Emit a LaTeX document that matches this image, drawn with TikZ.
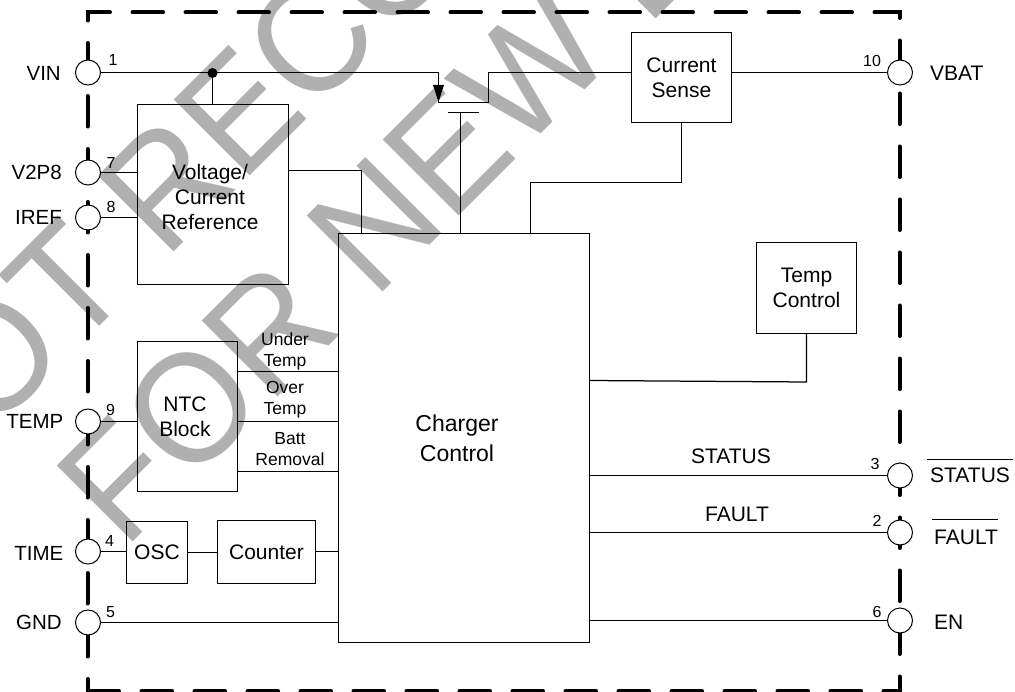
\documentclass[tikz,border=0pt]{standalone}
\usepackage{fontspec}
\setmainfont{Liberation Sans}
\definecolor{wmgray}{HTML}{B0B0B0}
\tikzset{
  wire/.style={line width=1.25pt,black},
  frameline/.style={line width=4pt,black,line cap=round,dash pattern=on 30.5pt off 22.5pt,dash phase=18.5pt},
  blk/.style={draw=black,line width=1.25pt,inner sep=0pt,align=center,font=\fontsize{21}{25}\selectfont},
  pin/.style={circle,draw=black,fill=white,line width=1pt,minimum size=25pt,inner sep=0pt},
  pinname/.style={inner sep=0pt,font=\fontsize{21}{25}\selectfont},
  leftname/.style={inner sep=0pt,anchor=east,font=\fontsize{20.5}{25}\selectfont},
  pinno/.style={inner sep=0pt,font=\fontsize{16}{18}\selectfont},
  small/.style={inner sep=0pt,align=center,font=\fontsize{17.5}{21}\selectfont},
  mark wm/.style={inner sep=0pt,text=wmgray,font=\fontsize{156}{156}\selectfont,rotate=45,anchor=base west},
}
\begin{document}
\begin{tikzpicture}[x=1pt,y=-1pt]
\useasboundingbox (0,0) rectangle (1015,692);
\begin{scope}
\clip (0,0) rectangle (1015,692);
\node[mark wm] (wm1) at (-85,511) {\scalebox{0.95}[1]{NOT RECOMMENDED}};
\node[mark wm] (wm2) at (124,551) {\scalebox{0.95}[1]{FOR NEW DESIGNS}};
\end{scope}
% frame
\draw[frameline] (87.5,691) -- (87.5,12.5) -- (899.5,12.5) -- (899.5,691) -- (87.5,691);
% pins
\node[pin] (pvin) at (88,72.5) {};
\node[pin] (pv2p8) at (88,172.5) {};
\node[pin] (piref) at (88,217.5) {};
\node[pin] (ptemp) at (88,421.5) {};
\node[pin] (ptime) at (88,551.5) {};
\node[pin] (pgnd) at (88,622.5) {};
\node[pin] (pvbat) at (900,72.5) {};
\node[pin] (pstat) at (900,475.5) {};
\node[pin] (pfault) at (900,532.5) {};
\node[pin] (pen) at (900,620.5) {};
% pin names
\node[leftname] (nvin) at (61,73.5) {VIN};
\node[leftname] (nv2p8) at (62,172) {V2P8};
\node[leftname] (niref) at (62,217) {IREF};
\node[leftname] (ntemp) at (63.5,421) {TEMP};
\node[leftname] (ntime) at (63.5,553.5) {TIME};
\node[leftname] (ngnd) at (62,622.5) {GND};
\node[pinname,anchor=west] (nvbat) at (930,73.5) {VBAT};
\node[pinname,anchor=west] (nstat) at (930,475.5) {STATUS};
\node[pinname,anchor=west] (nfault) at (934,537) {FAULT};
\node[pinname,anchor=west] (nen) at (934,622) {EN};
\coordinate (os1) at (927,459.5);
\coordinate (os2) at (1013,459.5);
\coordinate (of1) at (932,519.5);
\coordinate (of2) at (998,519.5);
\draw[wire] (os1) -- (os2);
\draw[wire] (of1) -- (of2);
% pin numbers
\node[pinno] (n1) at (113,60.5) {1};
\node[pinno] (n7) at (111,163) {7};
\node[pinno] (n8) at (111,207) {8};
\node[pinno] (n9) at (110.5,410) {9};
\node[pinno] (n4) at (109.5,541) {4};
\node[pinno] (n5) at (110.5,612) {5};
\node[pinno] (n10) at (872,61) {10};
\node[pinno] (n3) at (875,463.5) {3};
\node[pinno] (n2) at (877,521) {2};
\node[pinno] (n6) at (877,611.5) {6};
% blocks
\node[blk,minimum width=151pt,minimum height=180pt,
  label={[inner sep=0pt,align=center,xshift=-3pt,yshift=-2pt,font=\fontsize{21}{25}\selectfont]center:Voltage/\\Current\\Reference}] (vcr) at (213,194.5) {};
\node[blk,minimum width=100pt,minimum height=150pt] (ntc) at (187.5,416.5) {\hspace*{-5pt}NTC\\\hspace*{-5pt}Block};
\node[blk,minimum width=61pt,minimum height=62pt] (osc) at (157,552.5) {OSC};
\node[blk,minimum width=98pt,minimum height=63pt] (counter) at (266.5,552) {Counter};
\node[blk,minimum width=251pt,minimum height=409pt,
  label={[inner sep=0pt,align=center,xshift=-7pt,font=\fontsize{23}{30}\selectfont]center:Charger\\Control}] (cc) at (464,438) {};
\node[blk,minimum width=100pt,minimum height=90pt] (cs) at (681.5,77.5) {Current\\Sense};
\node[blk,minimum width=100pt,minimum height=91pt] (tc) at (806.5,288) {Temp\\Control};
% signal labels
\node[small] (lut) at (285,351.5) {Under\\Temp};
\node[small] (lot) at (285,399.5) {Over\\Temp};
\node[small] (lbr) at (290,449.5) {Batt\\Removal};
\node[pinname] (lst) at (731,456) {STATUS};
\node[pinname] (lfa) at (737,514) {FAULT};
% helper coordinates
\coordinate (sw1) at (438.5,72.5);
\coordinate (sw2) at (438.5,102.5);
\coordinate (sw3) at (488.5,102.5);
\coordinate (sw4) at (488.5,72.5);
\coordinate (gate) at (460.5,112.5);
\coordinate (gl) at (448,112.5);
\coordinate (gr) at (479,112.5);
\coordinate (j1) at (361.5,170.5);
\coordinate (j2) at (530.5,182.5);
\coordinate (j3) at (806.5,382);
\coordinate (j4) at (589.5,380.5);
\node[circle,fill=black,inner sep=0pt,minimum size=10pt] (dot) at (212.5,73) {};
% connectors
\draw[wire] (pvin.east) -- (sw1) -- (sw2) -- (sw3) -- (sw4) -- (sw4 -| cs.west);
\fill[black] (433,85) -- (444,85) -- (438.5,102) -- cycle;
\draw[wire] (gl) -- (gr);
\draw[wire] (gate) -- (gate |- cc.north);
\draw[wire] (dot) -- (dot |- vcr.north);
\draw[wire] (pv2p8.east) -- (pv2p8.east -| vcr.west);
\draw[wire] (piref.east) -- (piref.east -| vcr.west);
\draw[wire] (vcr.east |- j1) -- (j1) -- (j1 |- cc.north);
\draw[wire] (cs.south) -- (cs.south |- j2) -- (j2) -- (j2 |- cc.north);
\draw[wire] (cs.east |- pvbat.west) -- (pvbat.west);
\draw[wire] (tc.south) -- (j3) -- (j4);
\draw[wire] (ptemp.east) -- (ptemp.east -| ntc.west);
\draw[wire] (ntc.east |- 0,371.5) -- (cc.west |- 0,371.5);
\draw[wire] (ntc.east |- 0,421.5) -- (cc.west |- 0,421.5);
\draw[wire] (ntc.east |- 0,471.5) -- (cc.west |- 0,471.5);
\draw[wire] (ptime.east) -- (ptime.east -| osc.west);
\draw[wire] (osc.east) -- (counter.west |- osc.east);
\draw[wire] (counter.east |- ptime.east) -- (cc.west |- ptime.east);
\draw[wire] (pgnd.east) -- (pgnd.east -| cc.west);
\draw[wire] (cc.east |- pstat.west) -- (pstat.west);
\draw[wire] (cc.east |- pfault.west) -- (pfault.west);
\draw[wire] (cc.east |- pen.west) -- (pen.west);
\end{tikzpicture}
\end{document}
